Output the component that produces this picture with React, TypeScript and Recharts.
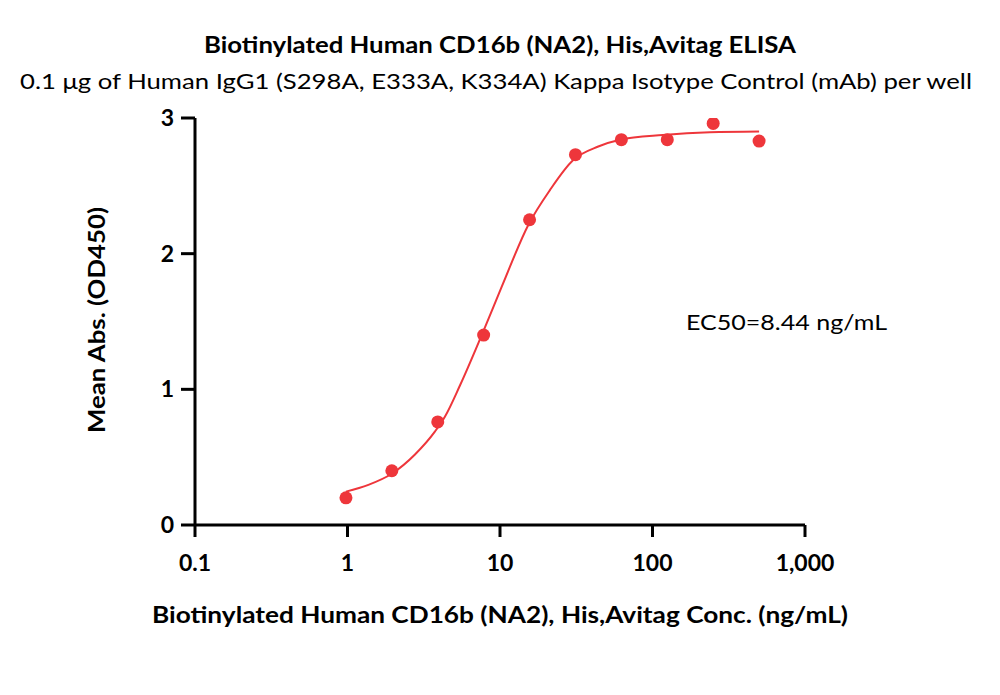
import React from 'react';
import { ComposedChart, Line, Scatter, XAxis, YAxis } from 'recharts';

// Measured concentrations (ng/mL) and mean OD450 readings
const concentrations = [0.977, 1.953, 3.906, 7.813, 15.625, 31.25, 62.5, 125, 250, 500];
const meanAbs = [0.2, 0.4, 0.76, 1.4, 2.25, 2.73, 2.84, 2.84, 2.96, 2.83];

// Fitted dose-response curve, sampled along the concentration range
const fitConc = [0.977, 1.37, 1.95, 2.77, 3.75, 4.36, 5.47, 7.59, 10.3, 15.3, 21.3, 30.2, 44.1, 61.2, 117, 238, 500];
const fitAbs = [0.246, 0.296, 0.378, 0.52, 0.69, 0.8, 1.03, 1.4, 1.76, 2.21, 2.47, 2.69, 2.79, 2.84, 2.875, 2.895, 2.9];

const xTicks = [0.1, 1, 10, 100, 1000];
const xTickLabels = ['0.1', '1', '10', '100', '1,000'];
const yTicks = [0, 1, 2, 3];

const title = 'Biotinylated Human CD16b (NA2), His,Avitag ELISA';
const subtitle = '0.1 μg of Human IgG1 (S298A, E333A, K334A) Kappa Isotype Control (mAb) per well';
const xTitle = 'Biotinylated Human CD16b (NA2), His,Avitag Conc. (ng/mL)';
const yTitle = 'Mean Abs. (OD450)';
const ec50Text = 'EC50=8.44 ng/mL';

const RED = '#EE363B';
const INK = '#000';
const FONT = 'Lato, "Open Sans", sans-serif';

const points = concentrations.map((x, i) => ({ x, y: meanAbs[i] }));
const curve = fitConc.map((x, i) => ({ x, y: fitAbs[i] }));

const XTick = (props: any) => {
  const idx = xTicks.indexOf(props.payload.value);
  return (
    <text x={props.x} y={props.y + 32} textAnchor="middle" fontFamily={FONT} fontWeight={700} fontSize={23} fill={INK}>
      {idx >= 0 ? xTickLabels[idx] : String(props.payload.value)}
    </text>
  );
};

const YTick = (props: any) => (
  <text x={props.x - 5} y={props.y + 8} textAnchor="end" fontFamily={FONT} fontWeight={700} fontSize={23} fill={INK}>
    {props.payload.value}
  </text>
);

const Dot = (props: any) => <circle cx={props.cx} cy={props.cy} r={6.5} fill={RED} />;

export default function App() {
  return (
    <div style={{ position: 'absolute', left: 0, top: 0, width: 1000, height: 695, background: '#fff' }}>
      <ComposedChart
        width={1000}
        height={695}
        margin={{ top: 118, right: 195, bottom: 110, left: 135 }}
      >
        <XAxis
          type="number"
          dataKey="x"
          scale="log"
          domain={[0.1, 1000]}
          ticks={xTicks}
          allowDataOverflow
          height={60}
          tickSize={12}
          tick={<XTick />}
          axisLine={{ stroke: INK, strokeWidth: 3 }}
          tickLine={{ stroke: INK, strokeWidth: 3 }}
        />
        <YAxis
          type="number"
          dataKey="y"
          domain={[0, 3]}
          ticks={yTicks}
          allowDataOverflow
          width={60}
          tickSize={14}
          tick={<YTick />}
          axisLine={{ stroke: INK, strokeWidth: 3 }}
          tickLine={{ stroke: INK, strokeWidth: 3 }}
        />
        <Line
          data={curve}
          dataKey="y"
          type="monotone"
          stroke={RED}
          strokeWidth={2}
          dot={false}
          activeDot={false}
          isAnimationActive={false}
        />
        <Scatter data={points} dataKey="y" fill={RED} shape={<Dot />} isAnimationActive={false} />
      </ComposedChart>
      <svg width={1000} height={695} style={{ position: 'absolute', left: 0, top: 0, pointerEvents: 'none' }}>
        <text x={500} y={53} textAnchor="middle" fontFamily={FONT} fontWeight={700} fontSize={22} fill={INK} textLength={592} lengthAdjust="spacingAndGlyphs">
          {title}
        </text>
        <text x={496} y={89} textAnchor="middle" fontFamily={FONT} fontSize={22} fill={INK} textLength={952} lengthAdjust="spacingAndGlyphs">
          {subtitle}
        </text>
        <text x={500} y={623} textAnchor="middle" fontFamily={FONT} fontWeight={700} fontSize={22} fill={INK} textLength={696} lengthAdjust="spacingAndGlyphs">
          {xTitle}
        </text>
        <text
          x={0}
          y={0}
          transform="translate(105, 320) rotate(-90)"
          textAnchor="middle"
          fontFamily={FONT}
          fontWeight={700}
          fontSize={22}
          fill={INK}
          textLength={226}
          lengthAdjust="spacingAndGlyphs"
        >
          {yTitle}
        </text>
        <text x={686} y={330} fontFamily={FONT} fontSize={22} fill={INK} textLength={201} lengthAdjust="spacingAndGlyphs">
          {ec50Text}
        </text>
      </svg>
    </div>
  );
}
